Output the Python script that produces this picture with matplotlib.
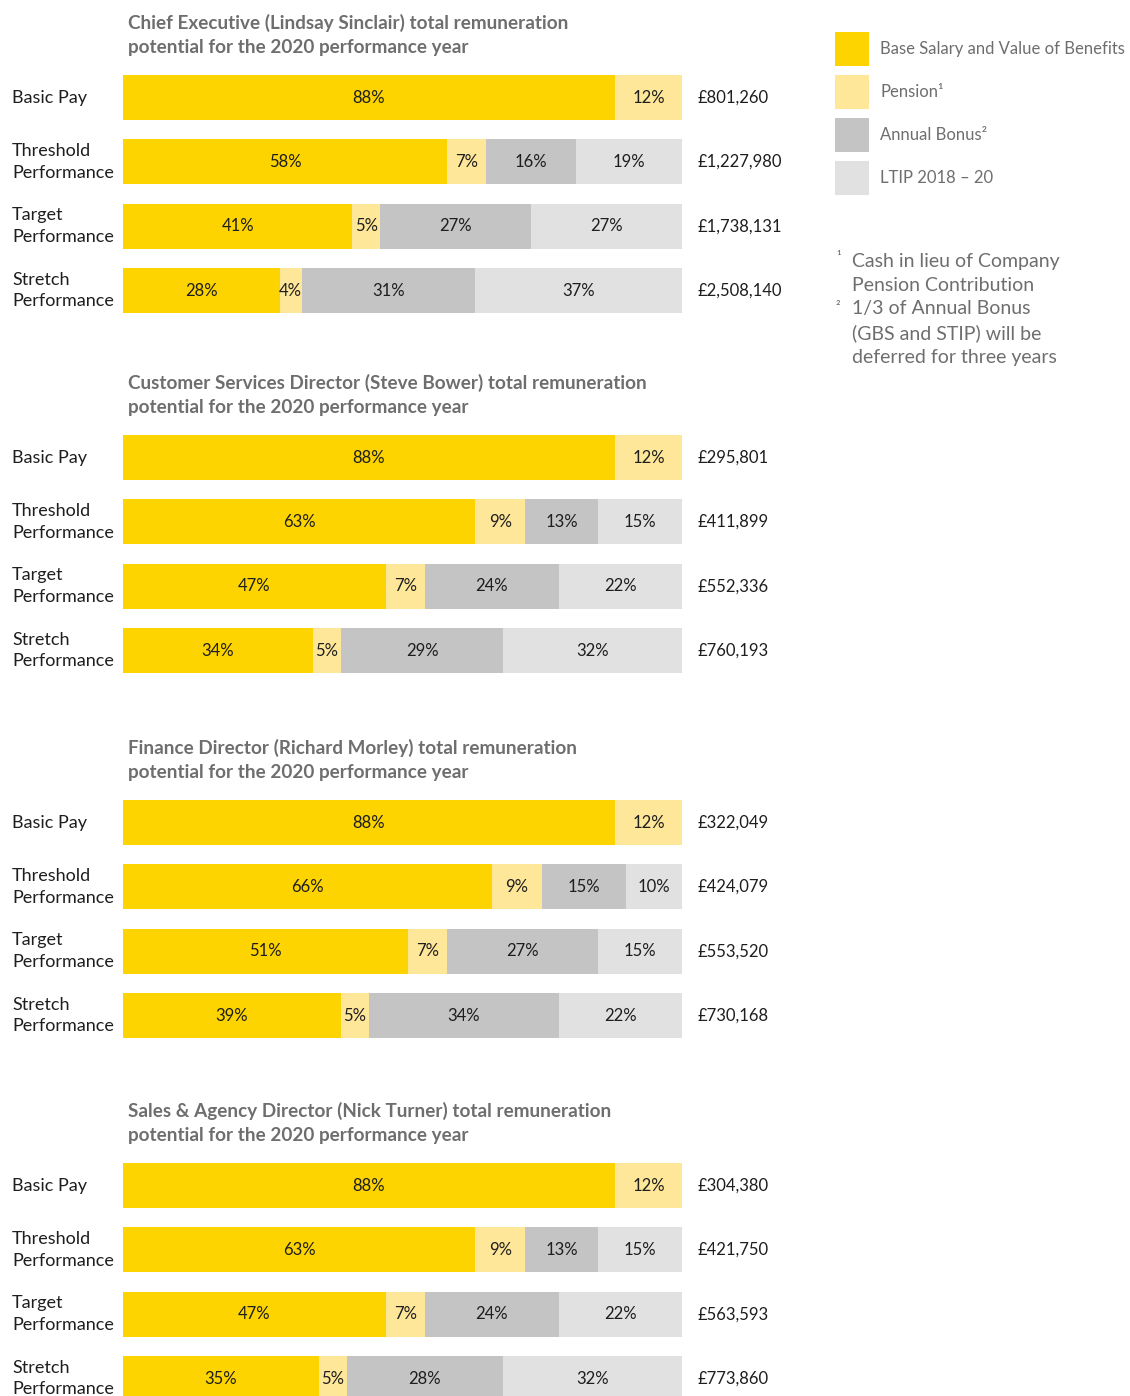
import numpy as np
import matplotlib
matplotlib.use("Agg")
import matplotlib.pyplot as plt
from matplotlib.patches import Patch
from matplotlib.transforms import blended_transform_factory

plt.rcParams['font.family'] = ['Lato', 'DejaVu Sans']

# ---- data ----
rows = ["Basic Pay", "Threshold\nPerformance", "Target\nPerformance", "Stretch\nPerformance"]
series_names = ["Base Salary and Value of Benefits", "Pension\u00b9", "Annual Bonus\u00b2", "LTIP 2018 \u2013 20"]

titles = [
    "Chief Executive (Lindsay Sinclair) total remuneration\npotential for the 2020 performance year",
    "Customer Services Director (Steve Bower) total remuneration\npotential for the 2020 performance year",
    "Finance Director (Richard Morley) total remuneration\npotential for the 2020 performance year",
    "Sales & Agency Director (Nick Turner) total remuneration\npotential for the 2020 performance year",
]

ceo_base = [88, 58, 41, 28]
ceo_pension = [12, 7, 5, 4]
ceo_bonus = [0, 16, 27, 31]
ceo_ltip = [0, 19, 27, 37]
ceo_total = ["£801,260", "£1,227,980", "£1,738,131", "£2,508,140"]

csd_base = [88, 63, 47, 34]
csd_pension = [12, 9, 7, 5]
csd_bonus = [0, 13, 24, 29]
csd_ltip = [0, 15, 22, 32]
csd_total = ["£295,801", "£411,899", "£552,336", "£760,193"]

fd_base = [88, 66, 51, 39]
fd_pension = [12, 9, 7, 5]
fd_bonus = [0, 15, 27, 34]
fd_ltip = [0, 10, 15, 22]
fd_total = ["£322,049", "£424,079", "£553,520", "£730,168"]

sad_base = [88, 63, 47, 35]
sad_pension = [12, 9, 7, 5]
sad_bonus = [0, 13, 24, 28]
sad_ltip = [0, 15, 22, 32]
sad_total = ["£304,380", "£421,750", "£563,593", "£773,860"]

footnotes = "Cash in lieu of Company\nPension Contribution\n1/3 of Annual Bonus\n(GBS and STIP) will be\ndeferred for three years"

panels = [
    ([ceo_base, ceo_pension, ceo_bonus, ceo_ltip], ceo_total),
    ([csd_base, csd_pension, csd_bonus, csd_ltip], csd_total),
    ([fd_base, fd_pension, fd_bonus, fd_ltip], fd_total),
    ([sad_base, sad_pension, sad_bonus, sad_ltip], sad_total),
]

colors = ["#FDD400", "#FFE799", "#C4C4C4", "#E1E1E1"]
title_col = "#6E6E6E"
text_col = "#1E1E1E"

W, H = 1130, 1396
fig = plt.figure(figsize=(W / 100, H / 100), dpi=100)

row_h = 64.3
ax_tops = [65.5, 425.5, 790.5, 1153.5]
x0, x1 = 123, 682

for (vals, totals), title, top in zip(panels, titles, ax_tops):
    ax = fig.add_axes([x0 / W, 1 - (top + 4 * row_h) / H, (x1 - x0) / W, 4 * row_h / H])
    y = np.arange(len(rows))
    left = np.zeros(len(rows))
    for v, c in zip(vals, colors):
        v = np.array(v, dtype=float)
        ax.barh(y, v, left=left, height=0.7, color=c, edgecolor='none')
        for yi, li, vi in zip(y, left, v):
            if vi > 0:
                ax.text(li + vi / 2, yi, "%d%%" % vi, ha='center', va='center',
                        fontsize=12, color=text_col)
        left = left + v
    ax.set_xlim(0, 100)
    ax.set_ylim(3.5, -0.5)
    ax.axis('off')

    tr = blended_transform_factory(fig.transFigure, ax.transData)
    for yi, lab, tot in zip(y, rows, totals):
        ax.text(12 / W, yi, lab, transform=tr, ha='left', va='center',
                fontsize=13, color=text_col, linespacing=1.45)
        ax.text(698 / W, yi, tot, transform=tr, ha='left', va='center',
                fontsize=12, color=text_col)

    fig.text(128 / W, 1 - (top - 30.5) / H, title, ha='left', va='center',
             fontsize=13.6, fontweight='bold', color=title_col, linespacing=1.5)

handles = [Patch(facecolor=c, edgecolor='none') for c in colors]
leg = fig.legend(handles, series_names, loc='upper left',
                 bbox_to_anchor=(835 / W, 1 - 32 / H), frameon=False,
                 fontsize=12, handlelength=2.05, handleheight=2.76,
                 labelspacing=0.55, handletextpad=0.65, borderpad=0, borderaxespad=0)
for t in leg.get_texts():
    t.set_color(title_col)

fig.text(852 / W, 1 - 309.5 / H, footnotes, ha='left', va='center',
         fontsize=14, color=title_col, linespacing=1.47)
fig.text(836 / W, 1 - 257 / H, "\u00b9", ha='left', va='center', fontsize=10, color=title_col)
fig.text(836 / W, 1 - 307 / H, "\u00b2", ha='left', va='center', fontsize=10, color=title_col)

fig.savefig("out.png", dpi=100, facecolor='white')
